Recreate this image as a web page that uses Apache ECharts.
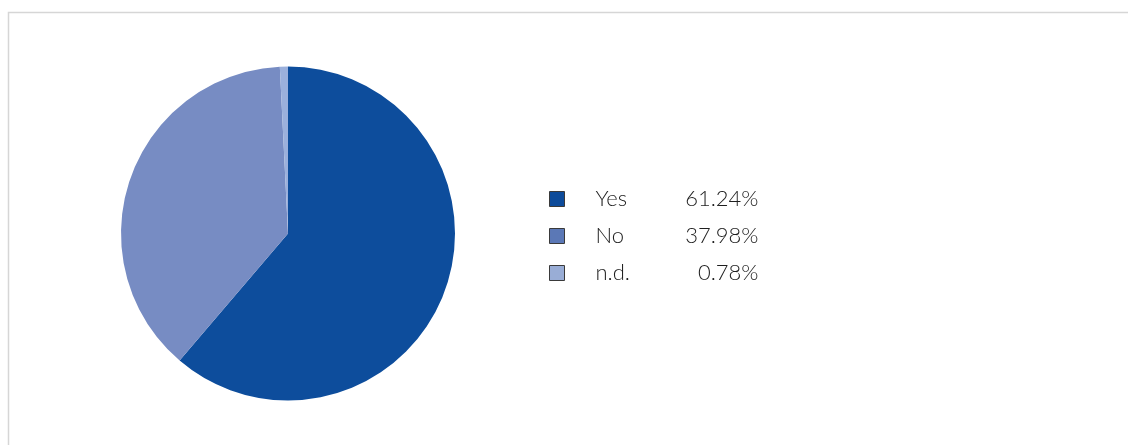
<!DOCTYPE html>
<html><head><meta charset="utf-8">
<script src="https://cdn.jsdelivr.net/npm/echarts@6/dist/echarts.min.js"></script>
<style>html,body{margin:0;padding:0;background:#fff}#c{width:1128px;height:445px}</style>
</head><body><div id="c"></div>
<script>
const categories = ['Yes', 'No', 'n.d.'];
const values = [61.24, 37.98, 0.78];
const sliceColors = ['#0d4d9c', '#778cc3', '#9bb0dc'];
const legendColors = ['#0d4b9a', '#5b78b6', '#99add6'];

const chart = echarts.init(document.getElementById('c'), null, {renderer: 'canvas'});
const valueOf = {};
categories.forEach((c, i) => valueOf[c] = values[i]);
chart.setOption({
  animation: false,
  graphic: [{
    type: 'rect', shape: {x: 8.5, y: 12.5, width: 1300, height: 600},
    style: {fill: 'none', stroke: '#d6d6d6', lineWidth: 1.5}, silent: true
  }],
  legend: {
    orient: 'vertical', left: 544, top: 183, padding: 5,
    itemWidth: 15, itemHeight: 15, itemGap: 15, icon: 'rect',
    data: categories.map((c, i) => ({name: c, itemStyle: {color: legendColors[i], borderColor: '#3a3a3a', borderWidth: 1}})),
    formatter: n => '{n|' + n + '}{v|' + valueOf[n].toFixed(2) + '%}',
    textStyle: {
      rich: {
        n: {fontFamily: 'Lato', fontWeight: 300, fontSize: 22, lineHeight: 22, color: '#1e1e1e', width: 60, padding: [0, 0, 0, 26]},
        v: {fontFamily: 'Lato', fontWeight: 300, fontSize: 22, lineHeight: 22, color: '#1e1e1e', width: 103, align: 'right'}
      }
    }
  },
  series: [{
    type: 'pie', center: [288, 233.5], radius: [0, 167], startAngle: 90, clockwise: true,
    label: {show: false}, labelLine: {show: false},
    itemStyle: {borderWidth: 0},
    data: categories.map((c, i) => ({name: c, value: values[i], itemStyle: {color: sliceColors[i]}}))
  }]
});
</script></body></html>
